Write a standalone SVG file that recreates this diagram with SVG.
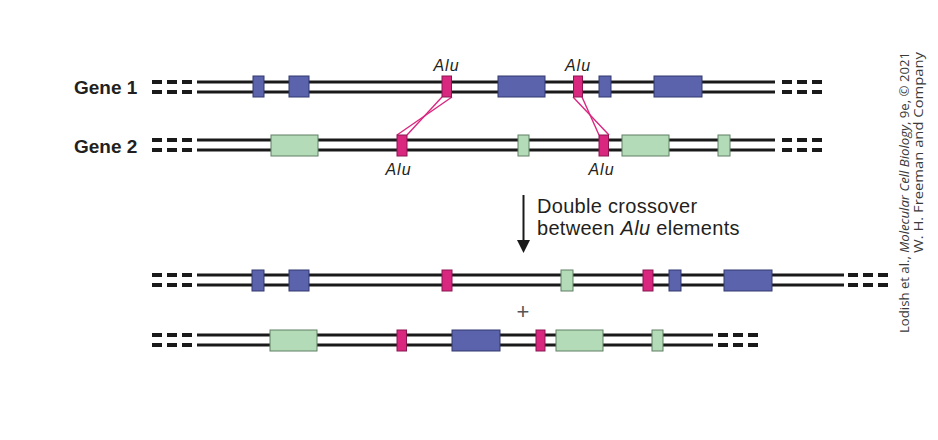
<svg xmlns="http://www.w3.org/2000/svg" width="938" height="440" viewBox="0 0 938 440">
<style>
.ln{stroke:#1a1a1a;stroke-width:3;fill:none}
.ds{stroke:#1a1a1a;stroke-width:4;fill:none;stroke-dasharray:10 5}
.b{fill:#5b63ad;stroke:#33386f;stroke-width:1}
.g{fill:#b4dbb8;stroke:#5f7f63;stroke-width:1}
.p{fill:#d9267f;stroke:#8a1650;stroke-width:1}
.x{stroke:#d9267f;stroke-width:1.4;fill:none}
.lbl{font-family:"Liberation Sans",Arial,sans-serif;font-weight:bold;font-size:19px;fill:#231f20}
.alu{font-family:"Liberation Sans",Arial,sans-serif;font-style:italic;font-size:16px;letter-spacing:1px;fill:#231f20}
.t{font-family:"Liberation Sans",Arial,sans-serif;font-size:20px;letter-spacing:0.3px;fill:#231f20}
.cr{font-family:"Open Sans","Liberation Sans",sans-serif;font-size:12.5px;fill:#3a3a3a}
</style>
<rect width="938" height="440" fill="#ffffff"/>

<g id="connectors">
  <line class="x" x1="452" y1="97" x2="397" y2="135"/>
  <line class="x" x1="442" y1="97" x2="407" y2="135"/>
  <line class="x" x1="573" y1="97" x2="609" y2="135"/>
  <line class="x" x1="582" y1="97" x2="599" y2="135"/>
  <g id="arrow">
    <line x1="523.5" y1="195" x2="523.5" y2="242" stroke="#1a1a1a" stroke-width="2"/>
    <polygon points="517,240 530,240 523.5,253" fill="#1a1a1a"/>
  </g>
</g>

<g id="gene1">
  <text class="lbl" x="74" y="94">Gene 1</text>
  <line class="ds" x1="152" y1="82" x2="192" y2="82"/>
  <line class="ds" x1="152" y1="92" x2="192" y2="92"/>
  <line class="ln" x1="197" y1="82" x2="775" y2="82"/>
  <line class="ln" x1="197" y1="92" x2="775" y2="92"/>
  <line class="ds" x1="782" y1="82" x2="822" y2="82"/>
  <line class="ds" x1="782" y1="92" x2="822" y2="92"/>
  <rect class="b" x="253" y="76" width="11" height="21"/>
  <rect class="b" x="289" y="76" width="20" height="21"/>
  <rect class="p" x="442" y="76" width="9.5" height="21"/>
  <rect class="b" x="498" y="76" width="47" height="21"/>
  <rect class="p" x="573.5" y="76" width="9" height="21"/>
  <rect class="b" x="599" y="76" width="12" height="21"/>
  <rect class="b" x="654" y="76" width="48" height="21"/>
  <text class="alu" x="446.5" y="71" text-anchor="middle">Alu</text>
  <text class="alu" x="578" y="71" text-anchor="middle">Alu</text>
</g>

<g id="gene2">
  <text class="lbl" x="74" y="153">Gene 2</text>
  <line class="ds" x1="152" y1="140" x2="192" y2="140"/>
  <line class="ds" x1="152" y1="150" x2="192" y2="150"/>
  <line class="ln" x1="197" y1="140" x2="775" y2="140"/>
  <line class="ln" x1="197" y1="150" x2="775" y2="150"/>
  <line class="ds" x1="782" y1="140" x2="822" y2="140"/>
  <line class="ds" x1="782" y1="150" x2="822" y2="150"/>
  <rect class="g" x="271" y="135" width="47" height="21"/>
  <rect class="p" x="397" y="135" width="10" height="21"/>
  <rect class="g" x="518" y="135" width="11" height="21"/>
  <rect class="p" x="599" y="135" width="9.5" height="21"/>
  <rect class="g" x="622" y="135" width="47" height="21"/>
  <rect class="g" x="718" y="135" width="12" height="21"/>
  <text class="alu" x="398.5" y="175" text-anchor="middle">Alu</text>
  <text class="alu" x="601.5" y="175" text-anchor="middle">Alu</text>
</g>

<g id="caption">
  <text class="t" x="537" y="213">Double crossover</text>
  <text class="t" x="537" y="235">between <tspan font-style="italic">Alu</tspan> elements</text>
</g>

<g id="product1">
  <line class="ds" x1="152" y1="275" x2="192" y2="275"/>
  <line class="ds" x1="152" y1="285" x2="192" y2="285"/>
  <line class="ln" x1="197" y1="275" x2="844" y2="275"/>
  <line class="ln" x1="197" y1="285" x2="844" y2="285"/>
  <line class="ds" x1="848" y1="275" x2="889" y2="275"/>
  <line class="ds" x1="848" y1="285" x2="889" y2="285"/>
  <rect class="b" x="252" y="270" width="12" height="21"/>
  <rect class="b" x="289" y="270" width="20" height="21"/>
  <rect class="p" x="442" y="270" width="10" height="21"/>
  <rect class="g" x="561" y="270" width="12" height="21"/>
  <rect class="p" x="643" y="270" width="10" height="21"/>
  <rect class="b" x="669" y="270" width="12" height="21"/>
  <rect class="b" x="724" y="270" width="48" height="21"/>
</g>

<text id="plus" x="523" y="319" text-anchor="middle" font-family="'Liberation Sans',Arial,sans-serif" font-size="22" fill="#555555">+</text>

<g id="product2">
  <line class="ds" x1="152" y1="335" x2="192" y2="335"/>
  <line class="ds" x1="152" y1="345" x2="192" y2="345"/>
  <line class="ln" x1="197" y1="335" x2="713" y2="335"/>
  <line class="ln" x1="197" y1="345" x2="713" y2="345"/>
  <line class="ds" x1="718" y1="335" x2="758" y2="335"/>
  <line class="ds" x1="718" y1="345" x2="758" y2="345"/>
  <rect class="g" x="270" y="330" width="47" height="21"/>
  <rect class="p" x="397" y="330" width="9.5" height="21"/>
  <rect class="b" x="452" y="330" width="48" height="21"/>
  <rect class="p" x="536" y="330" width="9" height="21"/>
  <rect class="g" x="556" y="330" width="47" height="21"/>
  <rect class="g" x="652" y="330" width="11" height="21"/>
</g>

<g id="credit">
  <text class="cr" transform="translate(909,52) rotate(-90)" text-anchor="end" textLength="281" lengthAdjust="spacingAndGlyphs">Lodish et al., <tspan font-style="italic">Molecular Cell Biology</tspan>, 9e, © 2021</text>
  <text class="cr" transform="translate(923,52) rotate(-90)" text-anchor="end" textLength="201" lengthAdjust="spacingAndGlyphs">W. H. Freeman and Company</text>
</g>
</svg>
